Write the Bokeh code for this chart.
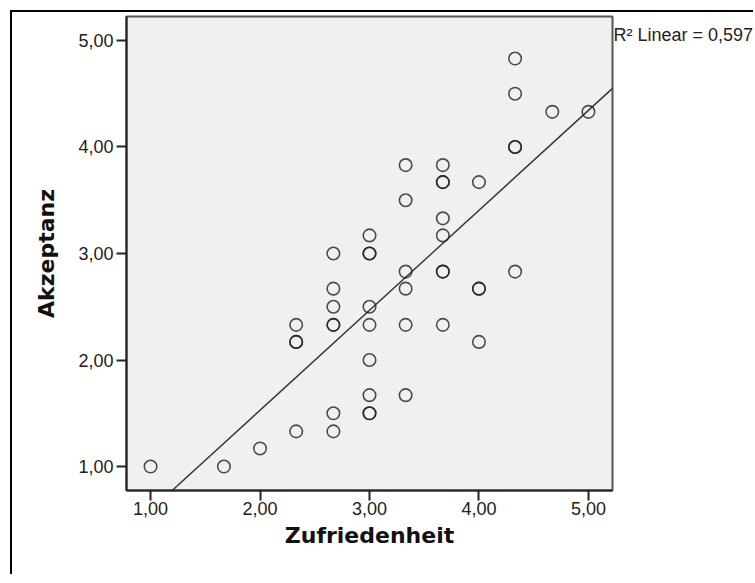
import numpy as np
from bokeh.plotting import figure
from bokeh.models import Range1d, CustomJSTickFormatter, FixedTicker, Label
from bokeh.embed import file_html
from bokeh.resources import INLINE

# ---- data ----
zufriedenheit = [1.00, 1.67, 2.00,
                 2.33, 2.33, 2.33, 2.33,
                 2.67, 2.67, 2.67, 2.67, 2.67, 2.67, 2.67,
                 3.00, 3.00, 3.00, 3.00, 3.00, 3.00, 3.00, 3.00, 3.00,
                 3.33, 3.33, 3.33, 3.33, 3.33, 3.33,
                 3.67, 3.67, 3.67, 3.67, 3.67, 3.67, 3.67, 3.67,
                 4.00, 4.00, 4.00, 4.00,
                 4.33, 4.33, 4.33, 4.33, 4.33,
                 4.67, 5.00]
akzeptanz = [1.00, 1.00, 1.17,
             1.33, 2.17, 2.17, 2.33,
             1.33, 1.50, 2.33, 2.33, 2.50, 2.67, 3.00,
             1.50, 1.50, 1.67, 2.00, 2.33, 2.50, 3.00, 3.00, 3.17,
             1.67, 2.33, 2.67, 2.83, 3.50, 3.83,
             2.33, 2.83, 2.83, 3.17, 3.33, 3.67, 3.67, 3.83,
             2.17, 2.67, 2.67, 3.67,
             2.83, 4.00, 4.00, 4.50, 4.83,
             4.33, 4.33]
x_ticks = [1, 2, 3, 4, 5]
y_ticks = [1, 2, 3, 4, 5]
r2_linear = 0.597
x_label = "Zufriedenheit"
y_label = "Akzeptanz"

X0, X1 = 0.78, 5.22
Y0, Y1 = 0.775, 5.225

p = figure(width=743, height=564,
           x_range=Range1d(X0, X1), y_range=Range1d(Y0, Y1),
           output_backend="svg", toolbar_location=None,
           min_border_left=114, min_border_right=143,
           min_border_top=4, min_border_bottom=86)

p.background_fill_color = "#f0f0f0"
p.border_fill_color = "white"
# outer chart-window frame: only its left and top edges are visible
p.styles = {"margin-left": "10px", "margin-top": "10px",
            "border-left": "2px solid #000", "border-top": "2px solid #000"}
p.outline_line_color = "#555555"
p.outline_line_width = 2
p.grid.visible = False

fmt = CustomJSTickFormatter(code="return tick.toFixed(2).replace('.', ',');")
for ax, ticks, lab in ((p.xaxis[0], x_ticks, x_label), (p.yaxis[0], y_ticks, y_label)):
    ax.ticker = FixedTicker(ticks=ticks)
    ax.formatter = fmt
    ax.axis_line_color = "#222222"
    ax.axis_line_width = 2
    ax.major_tick_line_color = "#222222"
    ax.major_tick_line_width = 2
    ax.major_tick_in = 0
    ax.major_tick_out = 10
    ax.minor_tick_line_color = None
    ax.major_label_text_font = "Liberation Sans"
    ax.major_label_text_font_size = "18px"
    ax.major_label_text_color = "#222222"
    ax.axis_label = lab
    ax.axis_label_text_font = "DejaVu Sans"
    ax.axis_label_text_font_style = "bold"
    ax.axis_label_text_font_size = "22px"
    ax.axis_label_text_color = "#111111"

p.xaxis[0].major_label_standoff = 1
p.yaxis[0].major_label_standoff = 3
p.xaxis[0].axis_label_standoff = 5
p.yaxis[0].axis_label_standoff = 16

# regression line from the data
slope, intercept = np.polyfit(np.array(zufriedenheit), np.array(akzeptanz), 1)
lx = [X0, X1]
ly = [intercept + slope * X0, intercept + slope * X1]
p.line(lx, ly, line_color="#333333", line_width=1.4)

p.scatter(zufriedenheit, akzeptanz, marker="circle", size=12.5,
          fill_color=None, line_color="#222222", line_width=1.6, line_alpha=0.8)

# fit label, placed in the right side panel so it is not clipped by the frame
r2_text = "R² Linear = " + f"{r2_linear:.3f}".replace(".", ",")
p.add_layout(Label(x=X1, y=Y1, text=r2_text, text_baseline="top",
                   x_offset=1, y_offset=-8, text_font="Liberation Sans",
                   text_font_size="18px", text_color="#222222"), "right")

open("out.html", "w").write(file_html(p, INLINE))
